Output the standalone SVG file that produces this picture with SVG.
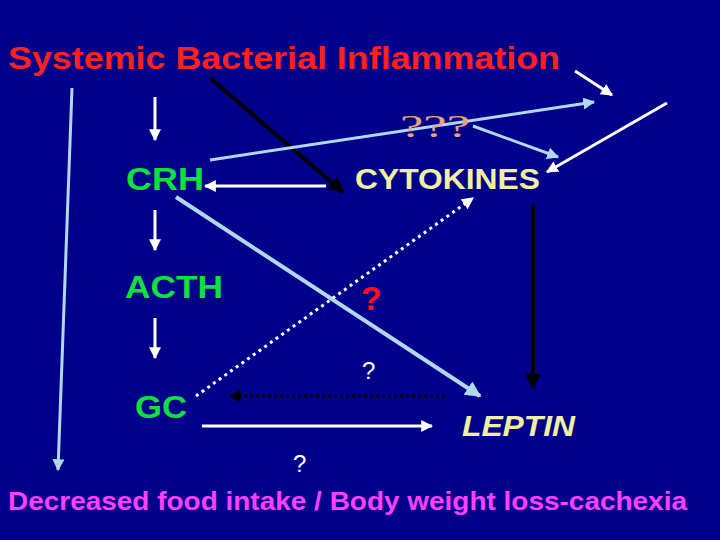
<svg xmlns="http://www.w3.org/2000/svg" width="720" height="540" viewBox="0 0 720 540">
<style>
text{font-family:"Liberation Sans",Arial,sans-serif}
.g{fill:#10e040;font-size:31px;font-weight:bold}
.w{stroke:#fff;stroke-width:3;fill:none}
.lb{stroke:#b0d8f0;fill:none}
.k{stroke:#000;fill:none}
</style>
<defs>
<marker id="aw" viewBox="0 0 10 10" refX="9" refY="5" markerWidth="4" markerHeight="4" orient="auto"><path d="M0,0L10,5L0,10z" fill="#fff"/></marker>
<marker id="ab" viewBox="0 0 10 10" refX="9" refY="5" markerWidth="4" markerHeight="4" orient="auto"><path d="M0,0L10,5L0,10z" fill="#b0d8f0"/></marker>
<marker id="ak" viewBox="0 0 10 10" refX="9" refY="5" markerWidth="4" markerHeight="4" orient="auto"><path d="M0,0L10,5L0,10z" fill="#000"/></marker>
</defs>
<rect width="720" height="540" fill="#00008a"/>
<g id="connectors">
<line class="w" x1="155" y1="97" x2="155" y2="140" marker-end="url(#aw)"/>
<line class="w" x1="155" y1="210" x2="155" y2="250" marker-end="url(#aw)"/>
<line class="w" x1="155" y1="318" x2="155" y2="358" marker-end="url(#aw)"/>
<line class="lb" stroke-width="3" x1="72" y1="88" x2="58" y2="470" marker-end="url(#ab)"/>
<line class="k" stroke-width="4" x1="210" y1="78" x2="343" y2="192" marker-end="url(#ak)"/>
<line class="lb" stroke-width="3" x1="210" y1="160" x2="594" y2="102" marker-end="url(#ab)"/>
<line class="lb" stroke-width="3" x1="473" y1="126" x2="558" y2="157" marker-end="url(#ab)"/>
<line class="w" x1="575" y1="71" x2="612" y2="95" marker-end="url(#aw)"/>
<line class="w" x1="667" y1="103" x2="547" y2="172" marker-end="url(#aw)"/>
<line class="w" x1="326" y1="186" x2="205" y2="186" marker-end="url(#aw)"/>
<line class="lb" stroke-width="4" x1="176" y1="197" x2="480" y2="396" marker-end="url(#ab)"/>
<line class="w" stroke-dasharray="3 4" x1="196" y1="396" x2="473" y2="198" marker-end="url(#aw)"/>
<line class="k" stroke-width="3" stroke-dasharray="3 3" x1="445" y1="396" x2="230" y2="396" marker-end="url(#ak)"/>
<line class="w" x1="202" y1="426" x2="432" y2="426" marker-end="url(#aw)"/>
<line class="k" stroke-width="4" x1="533" y1="205" x2="533" y2="388" marker-end="url(#ak)"/>
</g>
<g id="title"><text x="8" y="69" font-size="31" font-weight="bold" fill="#ff2020" textLength="552" lengthAdjust="spacingAndGlyphs">Systemic Bacterial Inflammation</text></g>
<g id="q3"><text x="400" y="137" font-size="32" fill="#e8a080" style="font-family:'Liberation Serif',serif" textLength="70" lengthAdjust="spacingAndGlyphs">???</text></g>
<g id="crh"><text class="g" x="126" y="190" textLength="78" lengthAdjust="spacingAndGlyphs">CRH</text></g>
<g id="acth"><text class="g" x="125" y="298" textLength="98" lengthAdjust="spacingAndGlyphs">ACTH</text></g>
<g id="gc"><text class="g" x="135" y="418" textLength="52" lengthAdjust="spacingAndGlyphs">GC</text></g>
<g id="cytokines"><text x="355" y="189" font-size="29" font-weight="bold" fill="#f0f0a0" textLength="185" lengthAdjust="spacingAndGlyphs">CYTOKINES</text></g>
<g id="leptin"><text x="462" y="436" font-size="30" font-weight="bold" font-style="italic" fill="#f0f0a0" textLength="113" lengthAdjust="spacingAndGlyphs">LEPTIN</text></g>
<g id="qred"><text x="361" y="310" font-size="34" font-weight="bold" fill="#ff1020">?</text></g>
<g id="q1"><text x="362" y="379" font-size="24" fill="#fff">?</text></g>
<g id="q2"><text x="293" y="472" font-size="24" fill="#fff">?</text></g>
<g id="bottom"><text x="8" y="510" font-size="25" font-weight="bold" fill="#ff40ff" textLength="679" lengthAdjust="spacingAndGlyphs">Decreased food intake / Body weight loss-cachexia</text></g>
</svg>
